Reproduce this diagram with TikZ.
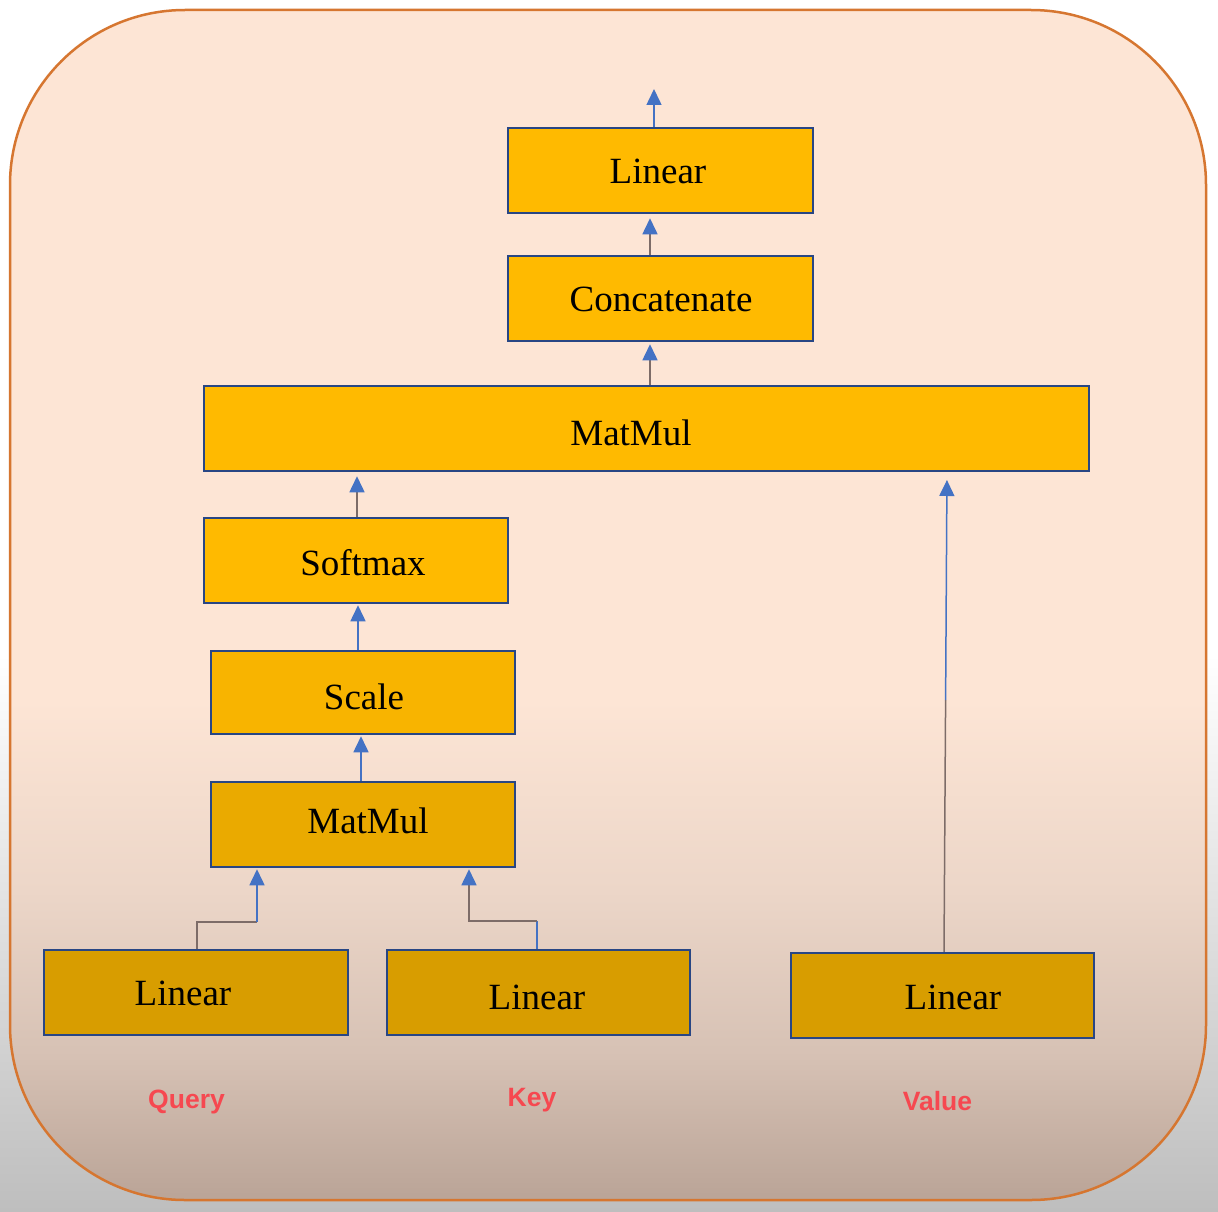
\documentclass[tikz,border=0pt]{standalone}
\usepackage{fontspec}
\setmainfont{Liberation Serif}
\newfontfamily\labfont{Liberation Sans}
\usetikzlibrary{arrows.meta}
\definecolor{arblue}{RGB}{68,114,196}
\definecolor{lnbrown}{RGB}{125,108,104}
\definecolor{boxblue}{RGB}{40,70,132}
\definecolor{amberA}{RGB}{255,186,0}
\definecolor{amberB}{RGB}{248,180,0}
\definecolor{amberC}{RGB}{234,170,0}
\definecolor{amberD}{RGB}{216,157,0}
\definecolor{labred}{RGB}{246,72,80}
\definecolor{rimorange}{RGB}{214,118,48}
\definecolor{outgrey}{RGB}{190,190,190}
\definecolor{peach}{RGB}{253,229,213}
\definecolor{peachB}{RGB}{236,214,200}
\definecolor{peachC}{RGB}{214,193,180}
\definecolor{peachD}{RGB}{186,164,151}
\pgfdeclareverticalshading{outershade}{100bp}{color(0bp)=(outgrey); color(25bp)=(outgrey); color(48bp)=(white); color(100bp)=(white)}
\pgfdeclareverticalshading{innershade}{100bp}{color(0bp)=(peachD); color(25bp)=(peachD); color(31bp)=(peachC); color(38bp)=(peachB); color(46bp)=(peach); color(100bp)=(peach)}
\begin{document}
\begin{tikzpicture}[x=1pt,y=-1pt,
  box/.style={draw=boxblue, line width=2.5pt, inner sep=0pt},
  boxtext/.style={font=\fontsize{37}{44}\selectfont, text=black, inner sep=0pt},
  qlabel/.style={font=\labfont\bfseries\fontsize{26.5}{32}\selectfont, text=labred, inner sep=0pt, anchor=base},
  conn/.style={line width=1.5pt},
  Btri/.tip={Triangle[length=16pt,width=15pt,color=arblue]}
]
\useasboundingbox (0,0) rectangle (1218,1212);
\path[shading=outershade] (0,0) rectangle (1218,1212);
\path[draw=rimorange, line width=2.5pt, shading=innershade, rounded corners=175pt] (10,10) rectangle (1206,1200);

% boxes
\node[box, fill=amberA, minimum width=305pt, minimum height=85pt] (lintop) at (660.5,170.5) {};
\node[box, fill=amberA, minimum width=305pt, minimum height=85pt] (concat) at (660.5,298.5) {};
\node[box, fill=amberA, minimum width=885pt, minimum height=85pt] (mmbig) at (646.5,428.5) {};
\node[box, fill=amberA, minimum width=304pt, minimum height=85pt] (soft) at (356,560.5) {};
\node[box, fill=amberB, minimum width=304pt, minimum height=83pt] (scale) at (363,692.5) {};
\node[box, fill=amberC, minimum width=304pt, minimum height=85pt] (mmsmall) at (363,824.5) {};
\node[box, fill=amberD, minimum width=304pt, minimum height=85pt] (linq) at (196,992.5) {};
\node[box, fill=amberD, minimum width=303pt, minimum height=85pt] (link) at (538.5,992.5) {};
\node[box, fill=amberD, minimum width=303pt, minimum height=85pt] (linv) at (942.5,995.5) {};

% box texts
\node[boxtext] (tlintop) at (658,171) {Linear};
\node[boxtext] (tconcat) at (661,299) {Concatenate};
\node[boxtext] (tmmbig) at (631,433) {MatMul};
\node[boxtext] (tsoft) at (363,563) {Softmax};
\node[boxtext] (tscale) at (364,697) {Scale};
\node[boxtext] (tmmsmall) at (368,821) {MatMul};
\node[boxtext] (tlinq) at (183,993) {Linear};
\node[boxtext] (tlink) at (537,997) {Linear};
\node[boxtext] (tlinv) at (953,997) {Linear};

% input labels
\node[qlabel] (lq) at (186.5,1108) {Query};
\node[qlabel] (lk) at (532,1106) {Key};
\node[qlabel] (lv) at (937.5,1110) {Value};

% connector helper coordinates
\coordinate (cxTop) at (654,0);
\coordinate (cxC) at (650,0);
\coordinate (cxS) at (357,0);
\coordinate (cxSc) at (358,0);
\coordinate (cxM) at (361,0);
\coordinate (out) at (654,89);
\coordinate (qa) at (197,922);
\coordinate (qb) at (257,922);
\coordinate (ka) at (537,921);
\coordinate (kb) at (469,921);
\coordinate (vbot) at (944,0);
\coordinate (vmid) at (945.6,700);
\coordinate (vtip) at (947,471);

% connectors
\draw[conn, arblue, -{Btri}] (cxTop |- lintop.north) -- (out);
\draw[conn, lnbrown, -{Btri}, shorten >=4pt] (cxC |- concat.north) -- (cxC |- lintop.south);
\draw[conn, lnbrown, -{Btri}, shorten >=2pt] (cxC |- mmbig.north) -- (cxC |- concat.south);
\draw[conn, lnbrown, -{Btri}, shorten >=4pt] (cxS |- soft.north) -- (cxS |- mmbig.south);
\draw[conn, arblue, -{Btri}, shorten >=1pt] (cxSc |- scale.north) -- (cxSc |- soft.south);
\draw[conn, arblue, -{Btri}, shorten >=1pt] (cxM |- mmsmall.north) -- (cxM |- scale.south);
\draw[conn, lnbrown] (qa |- linq.north) -- (qa) -- (qb);
\draw[conn, arblue, -{Btri}, shorten >=1pt] (qb) -- (qb |- mmsmall.south);
\draw[conn, arblue] (ka |- link.north) -- (ka);
\draw[conn, lnbrown, -{Btri}, shorten >=1pt] (ka) -- (kb) -- (kb |- mmsmall.south);
\draw[conn, lnbrown] (vbot |- linv.north) -- (vmid);
\draw[conn, arblue, -{Btri}, shorten >=9pt] (vmid) -- (vtip);
\end{tikzpicture}
\end{document}
